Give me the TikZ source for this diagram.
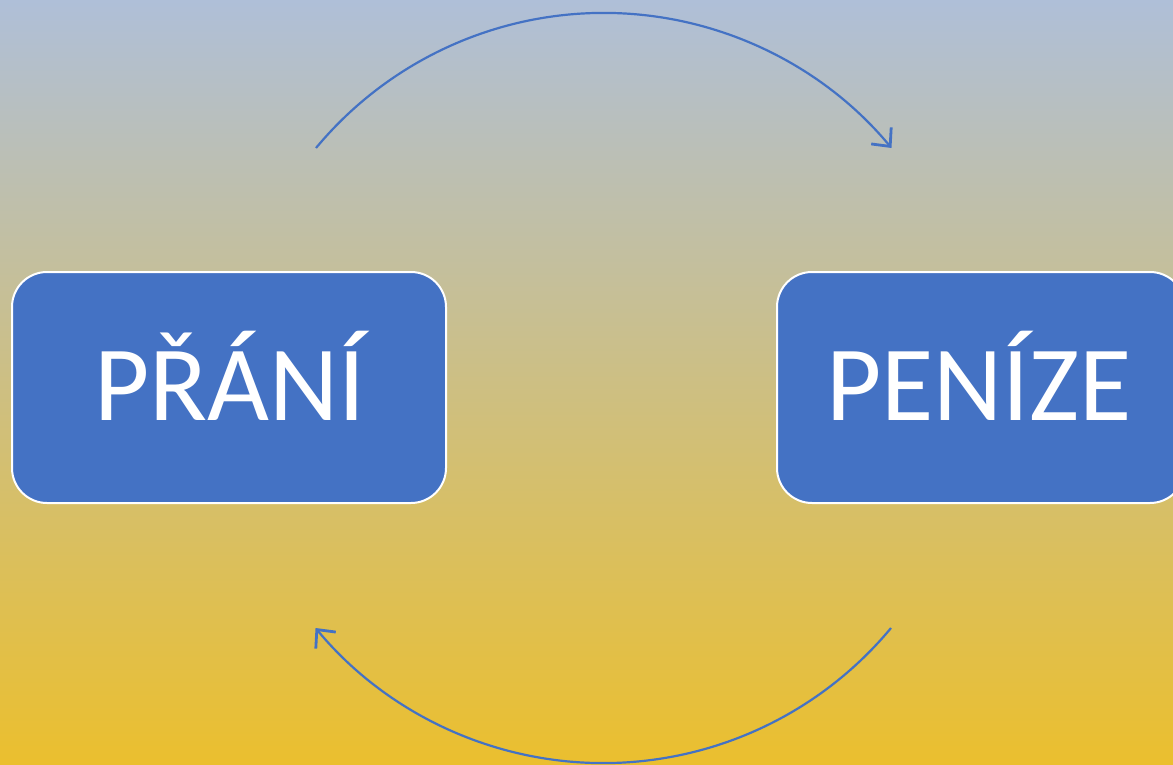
\documentclass[tikz,border=0pt]{standalone}
\usepackage{fontspec}
\setmainfont{Carlito}
\usetikzlibrary{arrows.meta}
\definecolor{topc}{RGB}{175,191,216}
\definecolor{midc}{RGB}{202,195,148}
\definecolor{botc}{RGB}{235,191,46}
\definecolor{boxblue}{RGB}{68,114,196}
\tikzset{
  box/.style={draw=white, line width=2pt, fill=boxblue, rounded corners=35pt, inner sep=0pt},
  label/.style={text=white, font=\fontsize{107}{115}\selectfont, anchor=base},
  cyc/.style={draw=boxblue, line width=2.2pt, -{Straight Barb[length=14pt,width=26pt,line width=2.8pt]}}
}
\begin{document}
\begin{tikzpicture}[x=1pt,y=1pt]
\useasboundingbox (0,0) rectangle (1173,-765);
\shade[top color=topc, middle color=midc, bottom color=botc] (0,0) rectangle (1173,-765);
\begin{scope}
\clip (0,0) rectangle (1173,-765);
\node[box, minimum width=434pt, minimum height=231pt] (prani) at (229,-387.5) {};
\node[box, minimum width=408pt, minimum height=231pt] (penize) at (981,-387.5) {};
\end{scope}
\node[label] (tp) at (230,-420) {PŘÁNÍ};
\node[label] (tq) at (979,-420) {PENÍZE};
\coordinate (a1) at (316,-148);
\coordinate (b1) at (891,-628);
\draw[cyc] (a1) arc[start angle=140.3, end angle=39.7, radius=374];
\draw[cyc] (b1) arc[start angle=-39.7, end angle=-140.3, radius=374];
\end{tikzpicture}
\end{document}
